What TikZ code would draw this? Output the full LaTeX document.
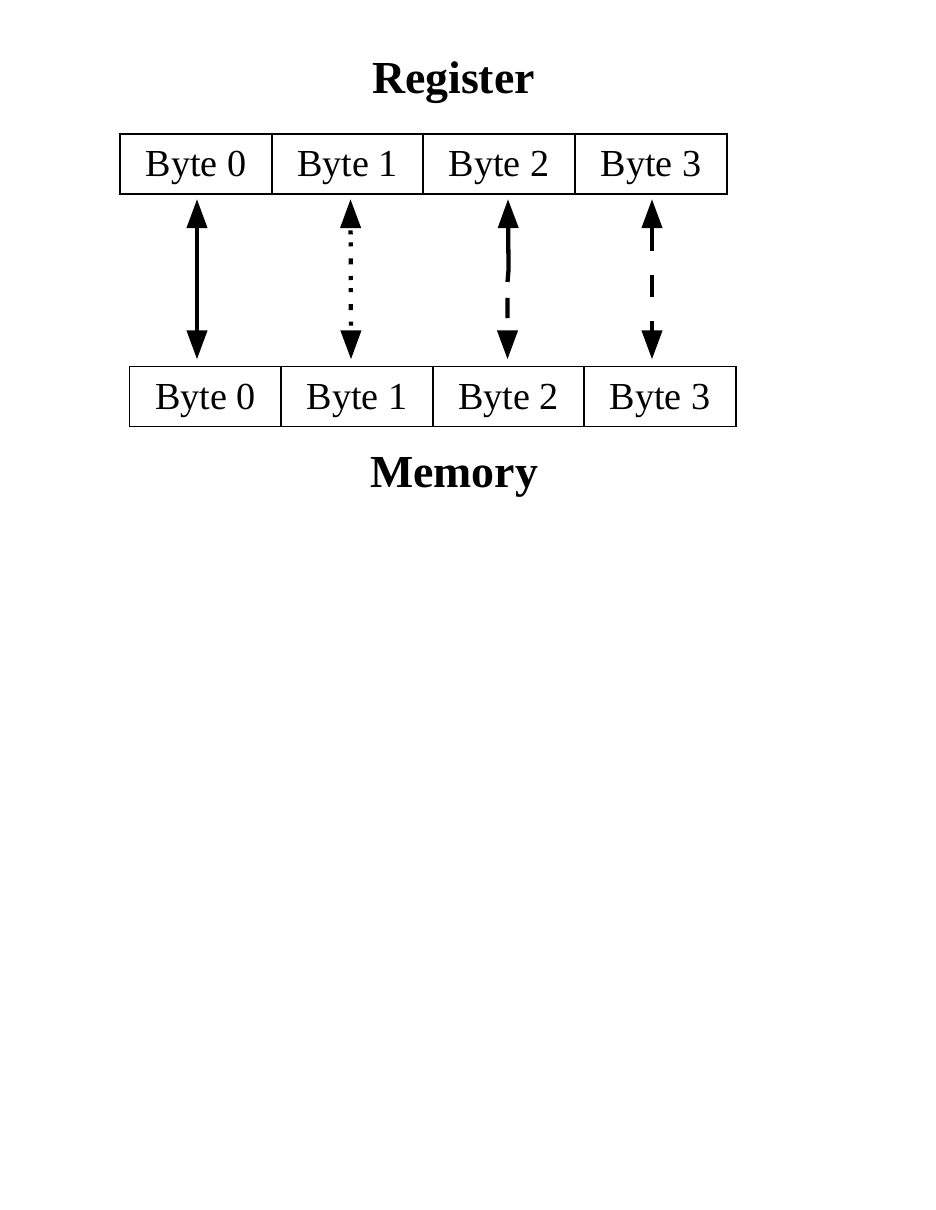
\documentclass[tikz,border=0pt]{standalone}
\usepackage{fontspec}
\setmainfont{Liberation Serif}
\usetikzlibrary{arrows.meta,calc}
\begin{document}
\begin{tikzpicture}[x=0.6545pt,y=-0.6545pt,
  cell/.style={draw,line width=0.9pt,inner sep=0pt,outer sep=0pt,
    minimum width=99.3pt,minimum height=39.3pt,
    text height=17pt,text depth=0pt,
    font=\fontsize{25}{30}\selectfont},
  title/.style={inner sep=0pt,anchor=base,font=\fontsize{30}{36}\selectfont\bfseries},
  arr/.style={line width=2.8pt,{Triangle[length=19pt,width=13pt]}-{Triangle[length=19pt,width=13pt]}}
]
\useasboundingbox (0,0) rectangle (935,1210);
\node[title] (reg) at (453.5,94) {Register};
\node[title] (mem) at (454,487) {Memory};
\node[cell] (t1) at (196,164) {Byte 0};
\node[cell] (t2) at (347.5,164) {Byte 1};
\node[cell] (t3) at (499,164) {Byte 2};
\node[cell] (t4) at (651,164) {Byte 3};
\node[cell] (b1) at (205.5,396.5) {Byte 0};
\node[cell] (b2) at (357,396.5) {Byte 1};
\node[cell] (b3) at (508.5,396.5) {Byte 2};
\node[cell] (b4) at (660,396.5) {Byte 3};
% solid
\draw[arr] ($(t1.south)+(1,5)$) -- ($(b1.north)+(-8.5,-7)$);
% dot-dot-dash
\draw[arr,dash pattern=on 2.62pt off 5.24pt on 2.62pt off 7.85pt on 3.93pt off 7.53pt,dash phase=27.5pt]
  ($(t2.south)+(3,5)$) -- ($(b2.north)+(-6,-7)$);
% solid then dashed
\draw[arr,dash pattern=on 36pt off 10.5pt on 13.1pt off 65pt]
  ($(t3.south)+(9,5)$) -- ($(t3.south)+(9.5,76)$) -- ($(t3.south)+(8.5,88)$) -- ($(b3.north)+(-1,-7)$);
% dashed
\draw[arr,dash pattern=on 15.7pt off 15.7pt on 14.4pt off 15.7pt on 33pt]
  ($(t4.south)+(1,5)$) -- ($(b4.north)+(-8,-7)$);
\end{tikzpicture}
\end{document}
